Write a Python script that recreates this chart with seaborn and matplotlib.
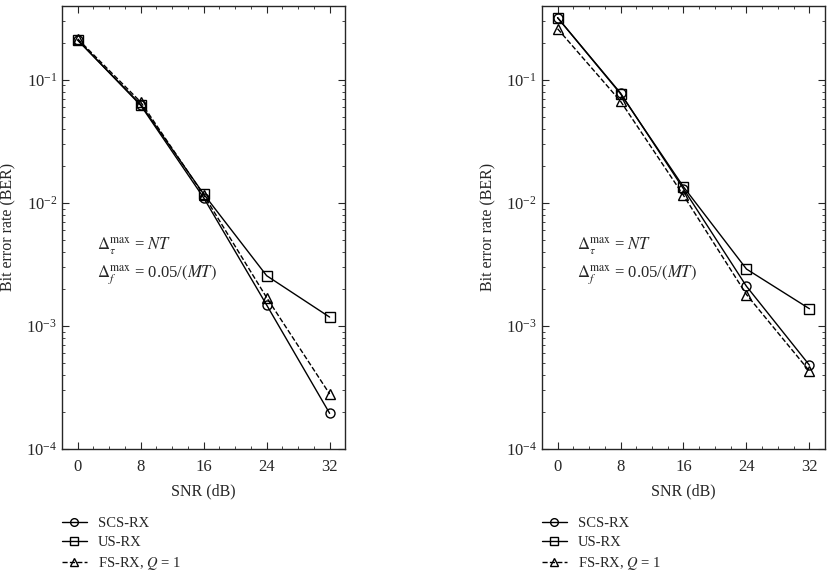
import numpy as np
import pandas as pd
import matplotlib
matplotlib.use('Agg')
import matplotlib.pyplot as plt
import seaborn as sns
from matplotlib.ticker import FixedLocator, MultipleLocator, LogLocator, NullFormatter

sns.set_style('ticks')
plt.rcParams['font.family'] = ['Liberation Serif', 'DejaVu Serif']
plt.rcParams['mathtext.fontset'] = 'stix'
plt.rcParams['font.size'] = 11

snr = [0, 8, 16, 24, 32]
receivers = ['SCS-RX', 'US-RX', 'FS-RX, $Q$ = 1']

# left panel
scs_left = [0.21, 0.062, 0.011, 0.00148, 0.000195]
us_left = [0.21, 0.063, 0.0118, 0.00256, 0.00118]
fs_left = [0.215, 0.066, 0.0116, 0.0017, 0.00028]

# right panel
scs_right = [0.32, 0.078, 0.013, 0.0021, 0.00048]
us_right = [0.32, 0.077, 0.0135, 0.0029, 0.00138]
fs_right = [0.26, 0.067, 0.0115, 0.0018, 0.00043]

markers = ['o', 's', '^']
styles = ['-', '-', '--']

fig = plt.figure(figsize=(8.31, 5.72), dpi=100)
ax1 = fig.add_axes([0.0746, 0.215, 0.341, 0.775])
ax2 = fig.add_axes([0.652, 0.215, 0.341, 0.775])

for ax, series in [(ax1, [scs_left, us_left, fs_left]), (ax2, [scs_right, us_right, fs_right])]:
    for name, vals, m, ls in zip(receivers, series, markers, styles):
        sns.lineplot(x=snr, y=vals, ax=ax, color='k', marker=m, linestyle=ls,
                     linewidth=1, markersize=6.5, markerfacecolor='none',
                     markeredgecolor='k', markeredgewidth=1, label=name, legend=False)
    ax.set_yscale('log')
    ax.set_ylim(1e-4, 0.4)
    ax.set_xlim(-2, 34)
    ax.xaxis.set_major_locator(FixedLocator(snr))
    ax.xaxis.set_minor_locator(MultipleLocator(2))
    ax.yaxis.set_major_locator(LogLocator(base=10, numticks=10))
    ax.yaxis.set_minor_locator(LogLocator(base=10, subs=np.arange(2, 10), numticks=10))
    ax.yaxis.set_minor_formatter(NullFormatter())
    ax.tick_params(which='both', direction='in', top=True, right=True, labelsize=12)
    ax.tick_params(axis='x', which='major', pad=7)
    ax.tick_params(which='major', length=5)
    ax.tick_params(which='minor', length=2.5)
    for s in ax.spines.values():
        s.set_linewidth(1)
    ax.set_xlabel('SNR (dB)', fontsize=11.5, labelpad=6)
    ax.set_ylabel('Bit error rate (BER)', fontsize=11.5)
    ax.yaxis.set_label_coords(-0.16, 0.5)
    ax.text(0.124, 0.458, r'$\Delta_{\tau}^{\max}$ = $NT$', transform=ax.transAxes,
            fontsize=12, va='center')
    ax.text(0.124, 0.393, r'$\Delta_{f}^{\max}$ = 0.05/$(MT)$', transform=ax.transAxes,
            fontsize=12, va='center')
    handles, labels = ax.get_legend_handles_labels()
    ax.legend(handles, labels, loc='upper left', bbox_to_anchor=(0.0, -0.153),
              frameon=False, handlelength=1.7, handletextpad=0.75, labelspacing=0.4,
              fontsize=10.5, borderaxespad=0, borderpad=0, markerscale=0.85)

fig.savefig('out.png', dpi=100)
